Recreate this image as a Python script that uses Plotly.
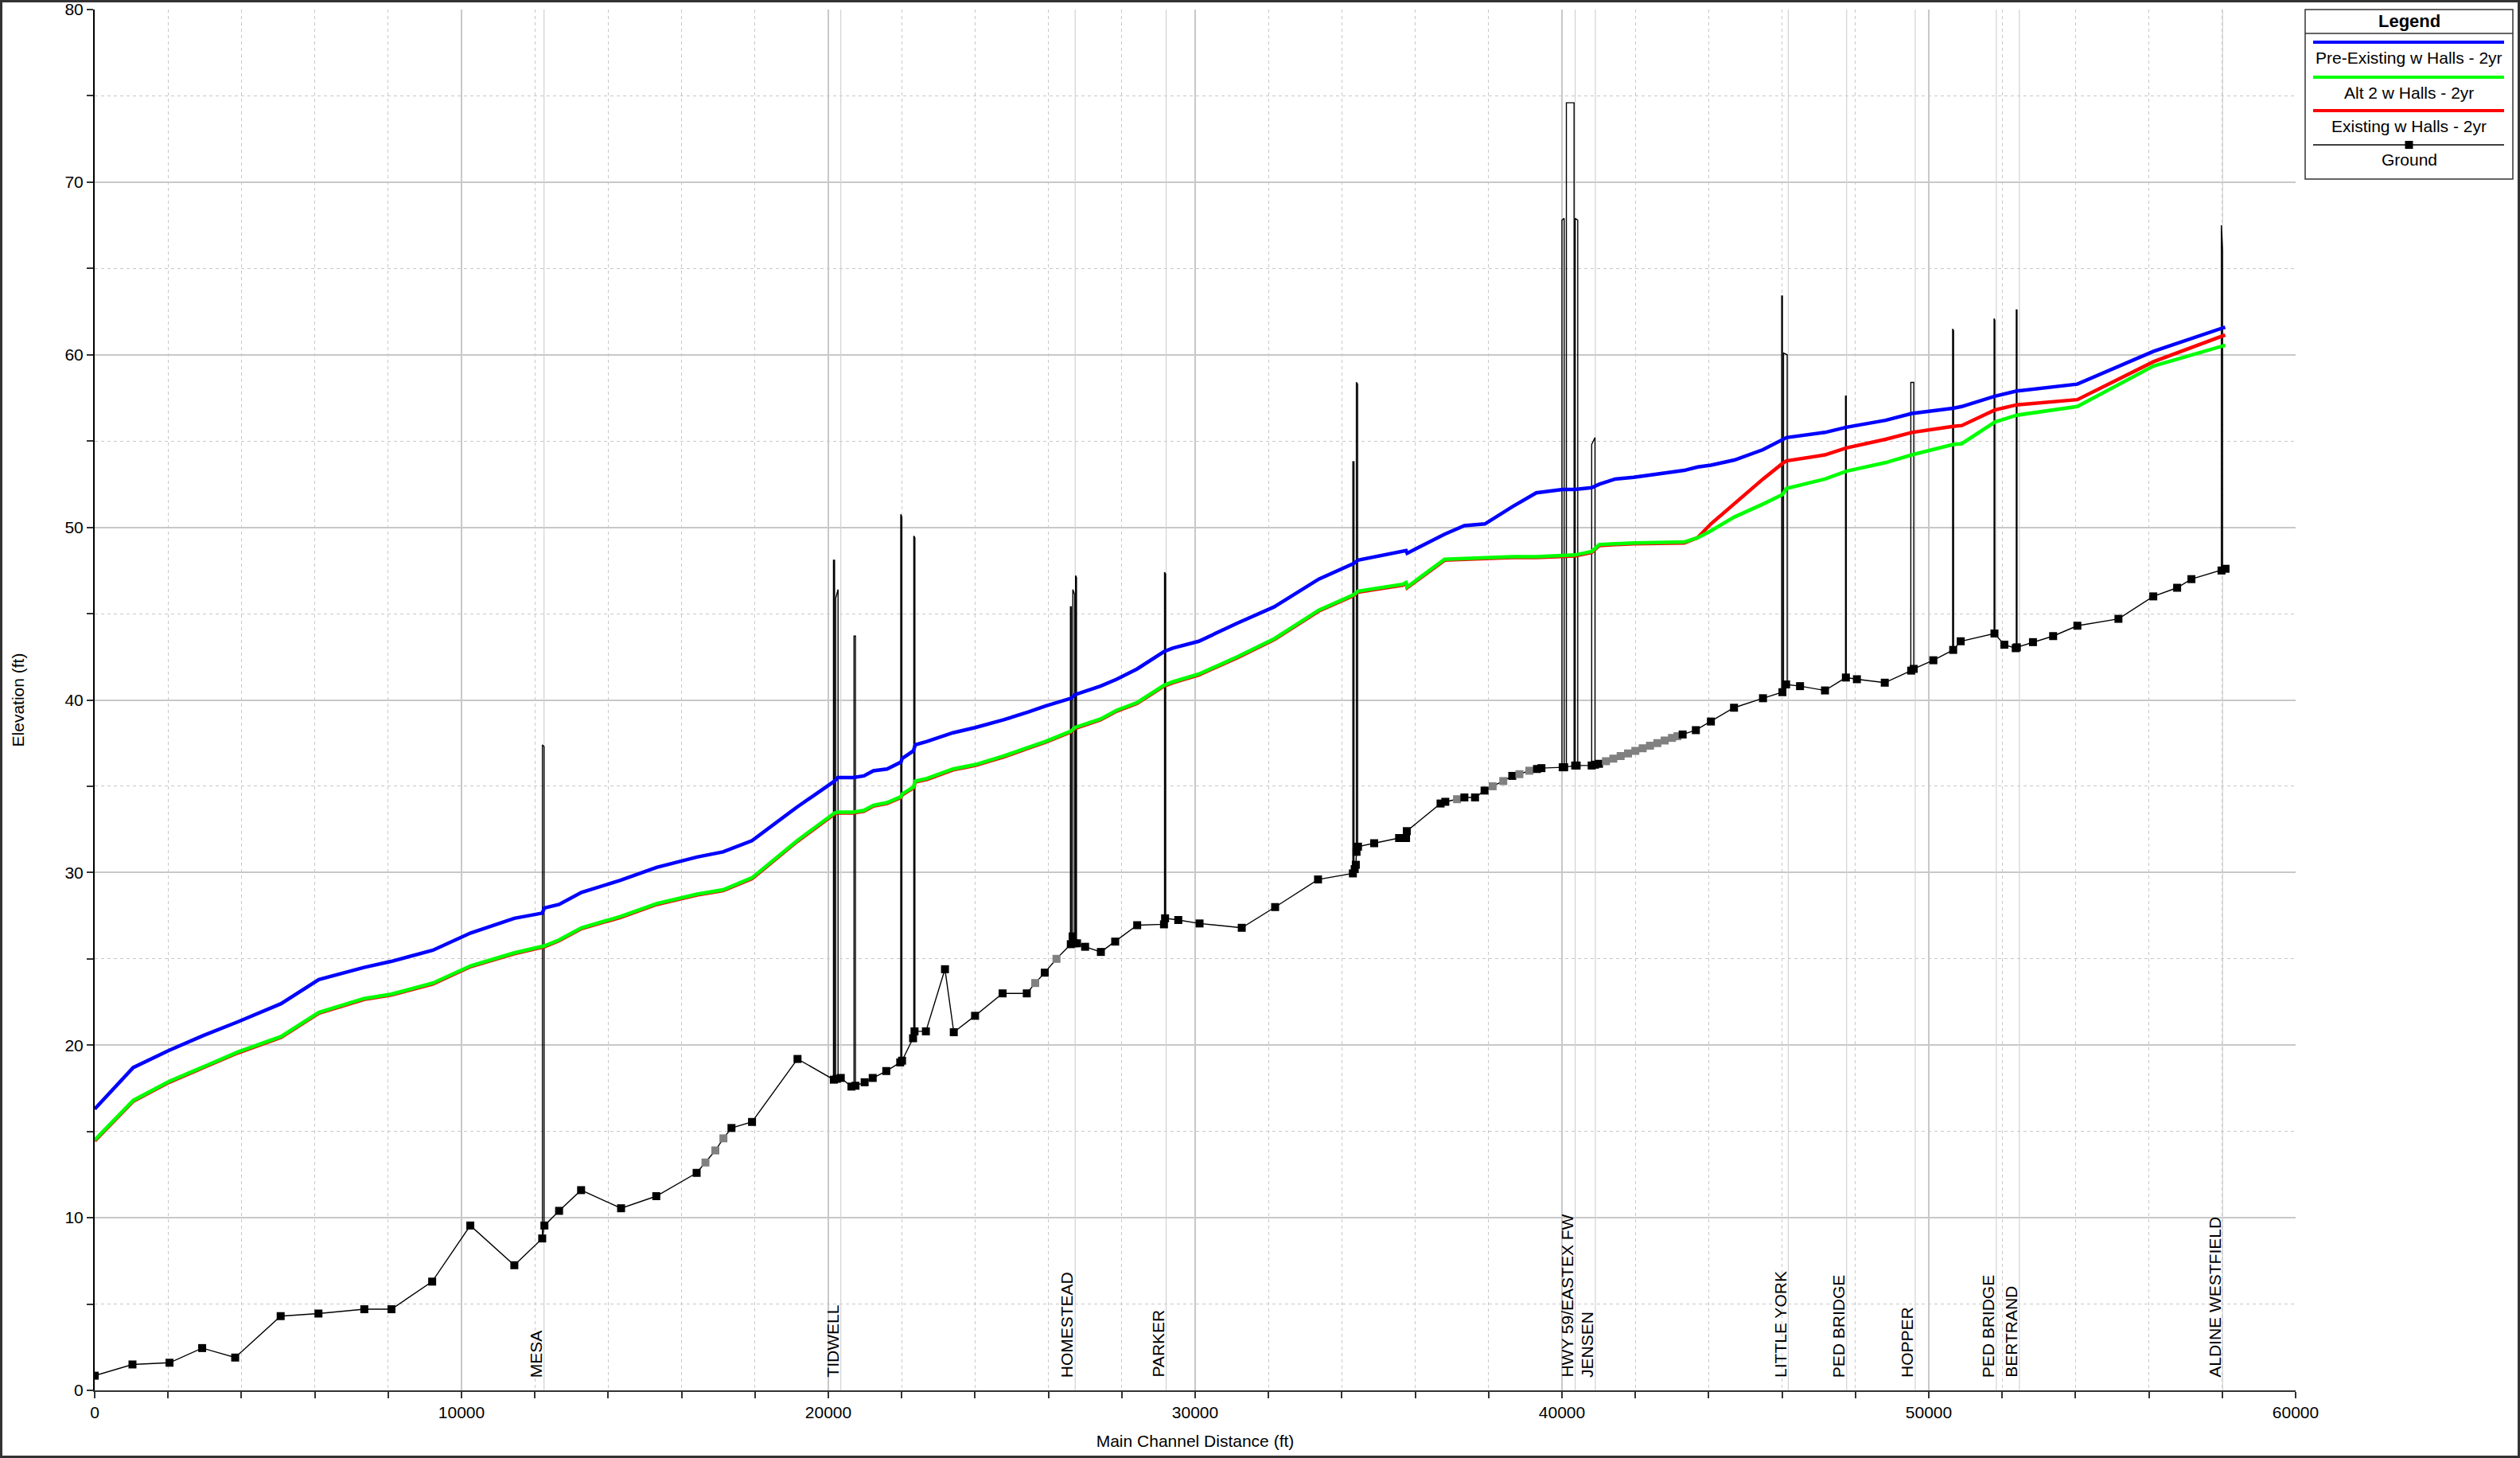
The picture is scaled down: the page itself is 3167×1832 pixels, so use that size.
import numpy as np
import plotly.graph_objects as go

# ---------------- data ----------------
ws_station = [0, 1050, 2030, 2950, 3900, 5080, 6110, 7340, 8080, 9220,
              10250, 11440, 12200, 12260, 12660, 13270, 14330, 15320, 16420, 17130,
              17920, 19150, 20170, 20260, 20680, 20970, 21230, 21600, 21980, 22010,
              22320, 22370, 22690, 23400, 24000, 24780, 25450, 25920, 26620, 26720,
              27420, 27860, 28420, 29150, 29390, 30100, 31150, 32160, 33370, 34320,
              34440, 35650, 35750, 35780, 36800, 37340, 37900, 38650, 39300, 40020,
              40350, 40810, 40920, 41020, 41450, 41950, 43330, 43700, 44060, 44700,
              45480, 46010, 46120, 47170, 47750, 48820, 49540, 50660, 50900, 51800,
              52400, 54050, 56130, 58080]

ws_pre_existing = [16.3, 18.7, 19.7, 20.55, 21.35, 22.4, 23.8, 24.5, 24.85, 25.5,
                   26.5, 27.35, 27.65, 27.95, 28.15, 28.85, 29.55, 30.3, 30.9, 31.2,
                   31.85, 33.8, 35.3, 35.5, 35.5, 35.6, 35.9, 36.0, 36.4, 36.6,
                   37.05, 37.4, 37.6, 38.1, 38.4, 38.85, 39.3, 39.65, 40.1, 40.3,
                   40.8, 41.2, 41.8, 42.8, 43.0, 43.4, 44.45, 45.4, 47.0, 47.9,
                   48.1, 48.6, 48.65, 48.5, 49.6, 50.1, 50.2, 51.2, 52.0, 52.2,
                   52.2, 52.3, 52.4, 52.5, 52.8, 52.9, 53.3, 53.5, 53.6, 53.9,
                   54.5, 55.1, 55.2, 55.5, 55.8, 56.2, 56.6, 56.9, 57.0, 57.6,
                   57.9, 58.3, 60.2, 61.6]

ws_alt2 = [14.5, 16.8, 17.9, 18.75, 19.6, 20.5, 21.9, 22.7, 22.95, 23.6,
           24.6, 25.35, 25.7, 25.75, 26.1, 26.8, 27.45, 28.2, 28.75, 29.0,
           29.7, 31.85, 33.45, 33.5, 33.5, 33.6, 33.9, 34.05, 34.4, 34.55,
           34.95, 35.3, 35.45, 36.0, 36.25, 36.75, 37.25, 37.6, 38.2, 38.4,
           38.9, 39.4, 39.85, 40.85, 41.05, 41.5, 42.5, 43.55, 45.2, 46.1,
           46.3, 46.7, 46.8, 46.55, 48.15, 48.2, 48.25, 48.3, 48.3, 48.35,
           48.4, 48.6, 48.8, 49.0, 49.05, 49.1, 49.15, 49.4, 49.8, 50.6,
           51.35, 51.9, 52.25, 52.8, 53.25, 53.75, 54.2, 54.8, 54.85, 56.1,
           56.5, 57.0, 59.35, 60.55]

ws_existing = [14.45, 16.75, 17.85, 18.7, 19.55, 20.45, 21.85, 22.65, 22.9, 23.55,
               24.55, 25.3, 25.65, 25.7, 26.05, 26.75, 27.4, 28.15, 28.7, 28.95,
               29.65, 31.8, 33.4, 33.45, 33.45, 33.55, 33.85, 34.0, 34.35, 34.5,
               34.9, 35.25, 35.4, 35.95, 36.2, 36.7, 37.2, 37.55, 38.15, 38.35,
               38.85, 39.35, 39.8, 40.8, 41.0, 41.45, 42.45, 43.5, 45.15, 46.05,
               46.25, 46.65, 46.75, 46.5, 48.1, 48.15, 48.2, 48.25, 48.25, 48.3,
               48.35, 48.55, 48.75, 48.95, 49.0, 49.05, 49.1, 49.4, 50.2, 51.4,
               52.8, 53.7, 53.85, 54.2, 54.6, 55.1, 55.5, 55.85, 55.9, 56.8,
               57.1, 57.4, 59.6, 61.15]

ground_station = [0, 1030, 2040, 2930, 3830, 5070, 6100, 7350, 8090, 9200,
                  10240, 11440, 12200, 12260, 12660, 13260, 14350, 15310, 16410, 16650,
                  16920, 17140, 17360, 17920, 19160, 20150, 20230, 20340, 20630, 20740,
                  20990, 21210, 21580, 21960, 22010, 22310, 22350, 22660, 23180, 23420,
                  24000, 24750, 25410, 25640, 25900, 26220, 26610, 26660, 26700, 26780,
                  27000, 27430, 27820, 28420, 29150, 29180, 29540, 30120, 31270, 32180,
                  33350, 34300, 34350, 34380, 34400, 34440, 34880, 35560, 35750, 35770,
                  36690, 36820, 37140, 37340, 37630, 37890, 38110, 38400, 38645, 38840,
                  39110, 39320, 39440, 40020, 40060, 40360, 40400, 40810, 40900, 41010,
                  41200, 41400, 41600, 41800, 42000, 42200, 42400, 42600, 42800, 43000,
                  43150, 43290, 43650, 44060, 44690, 45480, 46010, 46110, 46490, 47170,
                  47740, 48040, 48800, 49520, 49590, 50125, 50665, 50870, 51790, 52060,
                  52370, 52400, 52840, 53390, 54050, 55170, 56120, 56770, 57160, 57980,
                  58090]

ground_elev = [0.85, 1.5, 1.6, 2.45, 1.9, 4.3, 4.45, 4.7, 4.7, 6.3,
               9.55, 7.25, 8.8, 9.55, 10.4, 11.6, 10.55, 11.25, 12.6, 13.2,
               13.9, 14.6, 15.2, 15.55, 19.2, 18.0, 18.05, 18.1, 17.6, 17.65,
               17.85, 18.1, 18.5, 19.0, 19.1, 20.4, 20.8, 20.8, 24.4, 20.75,
               21.7, 23.0, 23.0, 23.6, 24.2, 25.0, 25.85, 26.3, 25.9, 25.9,
               25.7, 25.4, 26.0, 26.95, 27.0, 27.35, 27.25, 27.05, 26.8, 28.0,
               29.6, 29.95, 30.2, 30.45, 31.2, 31.5, 31.7, 32.0, 32.0, 32.4,
               34.0, 34.1, 34.25, 34.35, 34.35, 34.75, 35.0, 35.3, 35.6, 35.7,
               35.9, 36.0, 36.05, 36.1, 36.1, 36.2, 36.2, 36.2, 36.25, 36.3,
               36.45, 36.6, 36.75, 36.9, 37.05, 37.2, 37.35, 37.5, 37.65, 37.8,
               37.9, 38.0, 38.25, 38.75, 39.55, 40.1, 40.45, 40.9, 40.8, 40.55,
               41.3, 41.2, 41.0, 41.7, 41.8, 42.3, 42.9, 43.4, 43.85, 43.2,
               43.0, 43.05, 43.35, 43.7, 44.3, 44.7, 46.0, 46.5, 47.0, 47.5,
               47.6]

# interpolated cross sections (drawn with grey markers)
ground_interp_station = [16650, 16920, 17140, 25640, 26220, 37140, 38110, 38400,
                         38840, 39110, 41200, 41400, 41600, 41800, 42000, 42200,
                         42400, 42600, 42800, 43000, 43150]

# bridge / culvert outlines: upstream face, downstream face, top elevations
bridge_x0 = [12205, 20140, 20200, 20700, 21975, 22330, 26600, 26665, 26740, 29165,
             34300, 34395, 40000, 40120, 40360, 40810, 45990, 46040, 47730, 49510,
             50650, 51780, 52385, 57975]
bridge_x1 = [12250, 20170, 20265, 20740, 22005, 22360, 26625, 26715, 26765, 29195,
             34330, 34430, 40060, 40330, 40430, 40900, 46010, 46140, 47750, 49590,
             50675, 51800, 52405, 58010]
bridge_top0 = [37.4, 48.1, 45.9, 43.7, 50.75, 49.5, 45.4, 46.4, 47.2, 47.4,
               53.8, 58.4, 67.8, 74.6, 67.9, 54.8, 63.4, 60.1, 57.6, 58.4,
               61.5, 62.1, 62.6, 67.5]
bridge_top1 = [37.3, 48.1, 46.4, 43.7, 50.6, 49.4, 45.4, 46.1, 47.1, 47.3,
               53.8, 58.3, 67.9, 74.6, 67.8, 55.2, 63.4, 60.0, 57.6, 58.4,
               61.4, 62.0, 62.6, 66.0]

label_text = ["MESA", "TIDWELL", "HOMESTEAD", "PARKER", "HWY 59/EASTEX FW", "JENSEN",
              "LITTLE YORK", "PED BRIDGE", "HOPPER", "PED BRIDGE", "BERTRAND",
              "ALDINE WESTFIELD"]
label_station = [12250, 20340, 26730, 29210, 40360, 40910, 46170, 47760, 49630,
                 51840, 52470, 58010]

x_range = [0, 60000]
y_range = [0, 80]

legend_names = ["Pre-Existing w Halls - 2yr", "Alt 2 w Halls - 2yr",
                "Existing w Halls - 2yr", "Ground"]

# ---------------- layout geometry ----------------
W, H = 3167, 1832
ML, MR, MT, MB = 119, 282, 12, 85
PW = W - ML - MR
PH = H - MT - MB
FONT = "Arial, Liberation Sans, sans-serif"

def px_x(p):
    return (p - ML) / PW

def px_y(p):
    return (H - MB - p) / PH

BLUE, GREEN, RED = "#0000ff", "#00ff00", "#ff0000"
GRID = "#c8c8c8"

fig = go.Figure()

# bridge label reference lines
lx, ly = [], []
for s in label_station:
    lx += [s, s, None]
    ly += [y_range[0], y_range[1], None]
fig.add_trace(go.Scatter(x=lx, y=ly, mode="lines", line=dict(color="#d2d2d2", width=1.2),
                         hoverinfo="skip", showlegend=False))

# bridge outlines
bx, by = [], []
for x0, x1, t0, t1 in zip(bridge_x0, bridge_x1, bridge_top0, bridge_top1):
    b0 = float(np.interp(x0, ground_station, ground_elev))
    b1 = float(np.interp(x1, ground_station, ground_elev))
    bx += [x0, x0, x1, x1, None]
    by += [b0, t0, t1, b1, None]
fig.add_trace(go.Scatter(x=bx, y=by, mode="lines", line=dict(color="black", width=1.4),
                         hoverinfo="skip", showlegend=False))

# ground
gcolors = ["#808080" if s in ground_interp_station else "black" for s in ground_station]
fig.add_trace(go.Scatter(x=ground_station, y=ground_elev, mode="lines+markers",
                         name=legend_names[3],
                         line=dict(color="black", width=1.4),
                         marker=dict(symbol="square", size=10, color=gcolors, line=dict(width=0)),
                         showlegend=False))

fig.add_trace(go.Scatter(x=ws_station, y=ws_existing, mode="lines", name=legend_names[2],
                         line=dict(color=RED, width=4.5), showlegend=False))
fig.add_trace(go.Scatter(x=ws_station, y=ws_alt2, mode="lines", name=legend_names[1],
                         line=dict(color=GREEN, width=4.5), showlegend=False))
fig.add_trace(go.Scatter(x=ws_station, y=ws_pre_existing, mode="lines", name=legend_names[0],
                         line=dict(color=BLUE, width=4.5), showlegend=False))

annotations = []
for t, s in zip(label_text, label_station):
    annotations.append(dict(x=s, y=px_y(1733), xref="x", yref="paper", text=t,
                            textangle=-90, xanchor="right", yanchor="bottom",
                            showarrow=False, xshift=3,
                            font=dict(family=FONT, size=21, color="black")))

shapes = []
# outer frame
shapes.append(dict(type="rect", xref="paper", yref="paper",
                   x0=px_x(1.5), x1=px_x(W - 1.5), y0=px_y(H - 1.5), y1=px_y(1.5),
                   line=dict(color="#333333", width=3), fillcolor="rgba(0,0,0,0)"))

# custom legend box
LX0, LX1, LY0, LY1 = 2897, 3158, 12, 225
shapes.append(dict(type="rect", xref="paper", yref="paper",
                   x0=px_x(LX0), x1=px_x(LX1), y0=px_y(LY1), y1=px_y(LY0),
                   line=dict(color="#333333", width=1.5), fillcolor="white"))
shapes.append(dict(type="line", xref="paper", yref="paper",
                   x0=px_x(LX0), x1=px_x(LX1), y0=px_y(42), y1=px_y(42),
                   line=dict(color="#333333", width=1.5)))
annotations.append(dict(x=px_x((LX0 + LX1) / 2), y=px_y(26), xref="paper", yref="paper",
                        text="<b>Legend</b>", showarrow=False, xanchor="center", yanchor="middle",
                        font=dict(family=FONT, size=22, color="black")))
entry_line_y = [53, 97, 139, 182]
entry_text_y = [72, 117, 158, 200]
entry_colors = [BLUE, GREEN, RED, "black"]
entry_widths = [4, 4, 4, 1.4]
for name, ly_, ty_, c, w in zip(legend_names, entry_line_y, entry_text_y, entry_colors, entry_widths):
    shapes.append(dict(type="line", xref="paper", yref="paper",
                       x0=px_x(2907), x1=px_x(3147), y0=px_y(ly_), y1=px_y(ly_),
                       line=dict(color=c, width=w)))
    annotations.append(dict(x=px_x((LX0 + LX1) / 2), y=px_y(ty_), xref="paper", yref="paper",
                            text=name, showarrow=False, xanchor="center", yanchor="middle",
                            font=dict(family=FONT, size=21, color="black")))
mx = (LX0 + LX1) / 2
shapes.append(dict(type="rect", xref="paper", yref="paper",
                   x0=px_x(mx - 5), x1=px_x(mx + 5), y0=px_y(182 + 5), y1=px_y(182 - 5),
                   line=dict(width=0), fillcolor="black"))

fig.update_layout(
    width=W, height=H, autosize=False,
    margin=dict(l=ML, r=MR, t=MT, b=MB, pad=0),
    paper_bgcolor="white", plot_bgcolor="white",
    showlegend=False,
    font=dict(family=FONT, size=21, color="black"),
    annotations=annotations, shapes=shapes,
    xaxis=dict(range=x_range, tick0=0, dtick=10000, tickformat="d",
               showgrid=True, gridcolor=GRID, gridwidth=1.5, zeroline=False,
               showline=True, linecolor="#333333", linewidth=2,
               ticks="outside", ticklen=8, tickcolor="#333333", tickwidth=1.5,
               tickfont=dict(family=FONT, size=21, color="black"),
               minor=dict(dtick=2000, showgrid=True, gridcolor=GRID, griddash="4px,4px",
                          gridwidth=1, ticks="outside", ticklen=8, tickcolor="#333333"),
               title=dict(text="Main Channel Distance (ft)", standoff=18,
                          font=dict(family=FONT, size=21, color="black")),
               automargin=False),
    yaxis=dict(range=y_range, tick0=0, dtick=10,
               showgrid=True, gridcolor=GRID, gridwidth=1.5, zeroline=False,
               showline=True, linecolor="black", linewidth=2,
               ticks="outside", ticklen=8, tickcolor="#333333", tickwidth=1.5,
               tickfont=dict(family=FONT, size=21, color="black"),
               minor=dict(dtick=5, showgrid=True, gridcolor=GRID, griddash="4px,4px",
                          gridwidth=1, ticks="outside", ticklen=8, tickcolor="#333333"),
               title=dict(text="Elevation (ft)", standoff=45,
                          font=dict(family=FONT, size=21, color="black")),
               automargin=False),
)

fig.write_html("out.html", config={"displayModeBar": False},
               post_script="document.body.style.margin='0px';")
